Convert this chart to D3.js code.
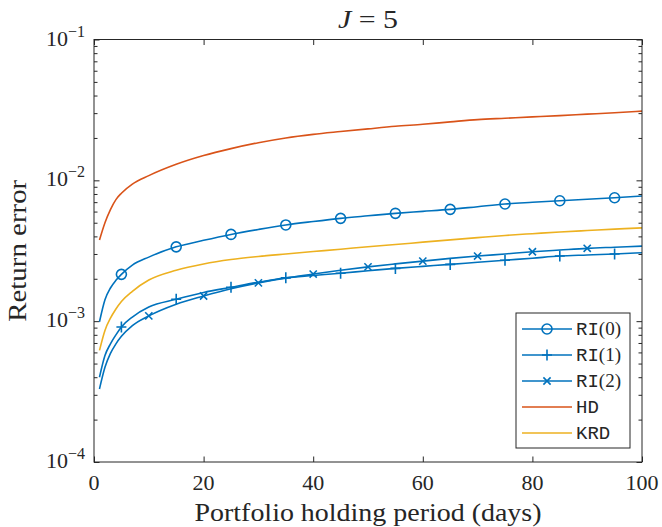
<!DOCTYPE html>
<html>
<head>
<meta charset="utf-8">
<script src="https://cdn.jsdelivr.net/npm/d3@7"></script>
<style>
body { margin: 0; background: #fff; }
text { font-family: "Liberation Serif", "DejaVu Serif", serif; fill: #262626; }
</style>
</head>
<body>
<svg width="662" height="527"></svg>
<script>
// data
var days = [1, 2, 3, 4, 5, 7, 10, 15, 20, 25, 30, 35, 40, 45, 50, 55, 60, 65, 70, 75, 80, 85, 90, 95, 100];
var ri0 = [9.9e-4, 1.42e-3, 1.72e-3, 1.95e-3, 2.15e-3, 2.5e-3, 2.85e-3, 3.37e-3, 3.75e-3, 4.13e-3, 4.48e-3, 4.82e-3, 5.1e-3,
  5.37e-3, 5.6e-3, 5.83e-3, 6.02e-3, 6.22e-3, 6.5e-3, 6.79e-3, 6.98e-3, 7.16e-3, 7.34e-3, 7.52e-3, 7.74e-3];
var ri1 = [4.0e-4, 5.7e-4, 6.9e-4, 8.0e-4, 9.1e-4, 1.07e-3, 1.26e-3, 1.43e-3, 1.6e-3, 1.74e-3, 1.89e-3, 2.03e-3, 2.11e-3,
  2.19e-3, 2.28e-3, 2.37e-3, 2.45e-3, 2.53e-3, 2.62e-3, 2.71e-3, 2.8e-3, 2.9e-3, 2.95e-3, 3.0e-3, 3.06e-3];
var ri2 = [3.3e-4, 4.7e-4, 5.9e-4, 6.9e-4, 7.8e-4, 9.3e-4, 1.09e-3, 1.32e-3, 1.51e-3, 1.7e-3, 1.87e-3, 2.02e-3, 2.16e-3,
  2.3e-3, 2.43e-3, 2.55e-3, 2.67e-3, 2.79e-3, 2.9e-3, 3.0e-3, 3.11e-3, 3.2e-3, 3.29e-3, 3.35e-3, 3.41e-3];
var hd = [3.77e-3, 5.0e-3, 6.2e-3, 7.3e-3, 8.1e-3, 9.4e-3, 1.08e-2, 1.3e-2, 1.5e-2, 1.68e-2, 1.85e-2, 2.0e-2, 2.12e-2,
  2.22e-2, 2.32e-2, 2.42e-2, 2.5e-2, 2.6e-2, 2.7e-2, 2.76e-2, 2.82e-2, 2.88e-2, 2.95e-2, 3.02e-2, 3.1e-2];
var krd = [6.2e-4, 8.6e-4, 1.05e-3, 1.22e-3, 1.38e-3, 1.63e-3, 1.96e-3, 2.3e-3, 2.55e-3, 2.74e-3, 2.88e-3, 3.0e-3, 3.12e-3,
  3.24e-3, 3.38e-3, 3.5e-3, 3.64e-3, 3.78e-3, 3.92e-3, 4.06e-3, 4.18e-3, 4.3e-3, 4.4e-3, 4.5e-3, 4.6e-3];
var mark0 = [5, 15, 25, 35, 45, 55, 65, 75, 85, 95];
var mark1 = [5, 15, 25, 35, 45, 55, 65, 75, 85, 95];
var mark2 = [10, 20, 30, 40, 50, 60, 70, 80, 90];
var xTicks = [0, 20, 40, 60, 80, 100];
var yExps = [-4, -3, -2, -1];
var names = ["RI", "RI", "RI", "HD", "KRD"];
var nameArgs = ["(0)", "(1)", "(2)", "", ""];

var blue = "#0072BD", orange = "#D95319", yellow = "#EDB120";
var series = [
  {vals: ri0, color: blue, marker: "o", marks: mark0},
  {vals: ri1, color: blue, marker: "+", marks: mark1},
  {vals: ri2, color: blue, marker: "x", marks: mark2},
  {vals: hd, color: orange, marker: null, marks: []},
  {vals: krd, color: yellow, marker: null, marks: []}
];

var pL = 94, pR = 642, pT = 39.5, pB = 462;
var svg = d3.select("svg");
var x = d3.scaleLinear().domain([0, 100]).range([pL, pR]);
var y = d3.scaleLog().domain([1e-4, 1e-1]).range([pB, pT]);

var minor = [];
for (var e = -4; e < -1; e++) for (var m = 2; m < 10; m++) minor.push(m * Math.pow(10, e));
var major = yExps.map(function(p) { return Math.pow(10, p); });

var axisG = svg.append("g").attr("class", "axes");
function tickStyle(g) {
  g.select(".domain").remove();
  g.selectAll("line").attr("stroke", "#262626").attr("stroke-width", 1);
  g.selectAll("text").remove();
}
axisG.append("g").attr("transform", "translate(0," + pB + ")")
  .call(d3.axisBottom(x).tickValues(xTicks).tickSize(-5.5)).call(tickStyle);
axisG.append("g").attr("transform", "translate(0," + pT + ")")
  .call(d3.axisTop(x).tickValues(xTicks).tickSize(-5.5)).call(tickStyle);
axisG.append("g").attr("transform", "translate(" + pL + ",0)")
  .call(d3.axisLeft(y).tickValues(major).tickSize(-5.5)).call(tickStyle);
axisG.append("g").attr("transform", "translate(" + pL + ",0)")
  .call(d3.axisLeft(y).tickValues(minor).tickSize(-3.5)).call(tickStyle);
axisG.append("g").attr("transform", "translate(" + pR + ",0)")
  .call(d3.axisRight(y).tickValues(major).tickSize(-5.5)).call(tickStyle);
axisG.append("g").attr("transform", "translate(" + pR + ",0)")
  .call(d3.axisRight(y).tickValues(minor).tickSize(-3.5)).call(tickStyle);

// tick labels
svg.append("g").selectAll("text").data(xTicks).enter().append("text")
  .attr("x", function(d) { return x(d); })
  .attr("y", 490)
  .attr("text-anchor", "middle")
  .attr("font-size", 22)
  .text(function(d) { return d; });

var yl = svg.append("g").selectAll("text").data(yExps).enter().append("text")
  .attr("x", 85)
  .attr("y", function(d) { return y(Math.pow(10, d)) + 6; })
  .attr("text-anchor", "end")
  .attr("font-size", 22);
yl.append("tspan").text("10");
yl.append("tspan").attr("font-size", 16).attr("dy", -9).text(function(d) { return "\u2212" + (-d); });

// lines
var line = d3.line()
  .x(function(d) { return x(d[0]); })
  .y(function(d) { return y(d[1]); })
  .curve(d3.curveMonotoneX);

var plot = svg.append("g");
series.forEach(function(s) {
  var pts = days.map(function(d, i) { return [d, s.vals[i]]; });
  plot.append("path").datum(pts)
    .attr("d", line)
    .attr("fill", "none")
    .attr("stroke", s.color)
    .attr("stroke-width", 1.6);
  var mp = pts.filter(function(p) { return s.marks.indexOf(p[0]) >= 0; });
  drawMarkers(plot, mp.map(function(p) { return [x(p[0]), y(p[1])]; }), s.marker, s.color);
});

function drawMarkers(g, pts, kind, color) {
  if (!kind) return;
  var sel = g.selectAll(null).data(pts).enter();
  if (kind === "o") {
    sel.append("circle")
      .attr("cx", function(p) { return p[0]; })
      .attr("cy", function(p) { return p[1]; })
      .attr("r", 5)
      .attr("fill", "none").attr("stroke", color).attr("stroke-width", 1.6);
  } else if (kind === "+") {
    sel.append("path")
      .attr("d", function(p) { return "M" + (p[0] - 5) + "," + p[1] + "H" + (p[0] + 5) + "M" + p[0] + "," + (p[1] - 5.5) + "V" + (p[1] + 5.5); })
      .attr("stroke", color).attr("stroke-width", 1.6);
  } else {
    sel.append("path")
      .attr("d", function(p) { return "M" + (p[0] - 3.6) + "," + (p[1] - 3.6) + "L" + (p[0] + 3.6) + "," + (p[1] + 3.6) + "M" + (p[0] - 3.6) + "," + (p[1] + 3.6) + "L" + (p[0] + 3.6) + "," + (p[1] - 3.6); })
      .attr("stroke", color).attr("stroke-width", 1.6);
  }
}

// box
svg.append("rect")
  .attr("x", pL).attr("y", pT)
  .attr("width", pR - pL).attr("height", pB - pT)
  .attr("fill", "none").attr("stroke", "#262626").attr("stroke-width", 1);

// titles
svg.append("text").attr("x", (pL + pR) / 2).attr("y", 28)
  .attr("text-anchor", "middle").attr("font-size", 25)
  .attr("textLength", 60).attr("lengthAdjust", "spacingAndGlyphs")
  .html('<tspan font-style="italic">J</tspan> = 5');
svg.append("text").attr("x", (pL + pR) / 2).attr("y", 521)
  .attr("text-anchor", "middle").attr("font-size", 25)
  .attr("textLength", 347).attr("lengthAdjust", "spacingAndGlyphs")
  .text("Portfolio holding period (days)");
svg.append("text")
  .attr("transform", "translate(26," + (pT + pB) / 2 + ") rotate(-90)")
  .attr("text-anchor", "middle").attr("font-size", 25)
  .attr("textLength", 142).attr("lengthAdjust", "spacingAndGlyphs")
  .text("Return error");

// legend
var lg = svg.append("g");
lg.append("rect").attr("x", 516).attr("y", 313).attr("width", 114).attr("height", 135)
  .attr("fill", "#fff").attr("stroke", "#262626").attr("stroke-width", 1);
series.forEach(function(s, i) {
  var ly = 329 + i * 26;
  lg.append("line").attr("x1", 522).attr("x2", 572).attr("y1", ly).attr("y2", ly)
    .attr("stroke", s.color).attr("stroke-width", 1.6);
  drawMarkers(lg, [[547, ly]], s.marker, s.color);
  var t = lg.append("text").attr("x", 576).attr("y", ly + 6).attr("font-size", 19);
  t.append("tspan").attr("font-family", "Liberation Mono, DejaVu Sans Mono, monospace").text(names[i]);
  if (nameArgs[i]) t.append("tspan").text(nameArgs[i]);
});
</script>
</body>
</html>
